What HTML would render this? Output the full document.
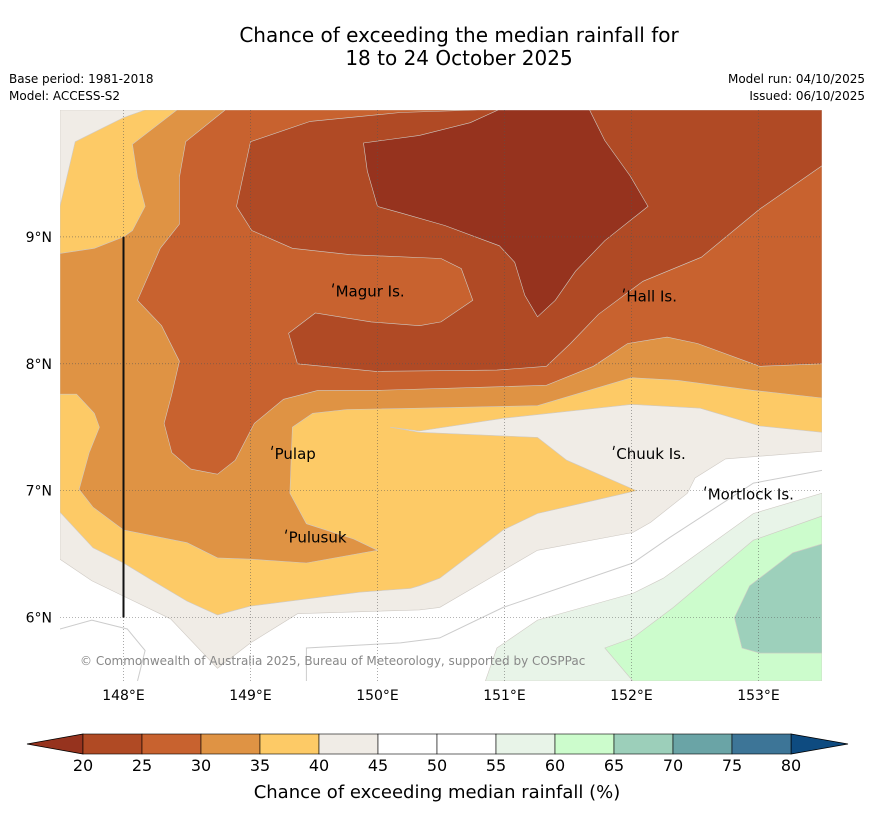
<!DOCTYPE html>
<html><head><meta charset="utf-8"><style>
body{margin:0;background:#fff;font-family:"Liberation Sans","DejaVu Sans",sans-serif}
svg text{font-family:"DejaVu Sans","Liberation Sans",sans-serif}
</style></head><body>
<svg id="chart" width="873" height="816" xmlns="http://www.w3.org/2000/svg">
<rect width="873" height="816" fill="#fff"/>
<text x="459" y="42" font-size="20" text-anchor="middle">Chance of exceeding the median rainfall for</text>
<text x="459" y="65" font-size="20" text-anchor="middle">18 to 24 October 2025</text>
<text x="9" y="83" font-size="12">Base period: 1981-2018</text>
<text x="9" y="100" font-size="12">Model: ACCESS-S2</text>
<text x="865" y="83" font-size="12" text-anchor="end">Model run: 04/10/2025</text>
<text x="865" y="100" font-size="12" text-anchor="end">Issued: 06/10/2025</text>
<defs><clipPath id="mapclip"><rect x="60" y="110" width="762" height="571"/></clipPath></defs>
<g id="map" clip-path="url(#mapclip)"></g>
<g id="axes"></g>
<g id="cbar"></g>
<text x="437" y="798" font-size="18" text-anchor="middle">Chance of exceeding median rainfall (%)</text>
</svg>
<script>
const NS="http://www.w3.org/2000/svg";
const lonTicks=[148,149,150,151,152,153];
const latTicks=[6,7,8,9];
const lonTickLabels=["148°E","149°E","150°E","151°E","152°E","153°E"];
const latTickLabels=["6°N","7°N","8°N","9°N"];
const cbLevels=[20,25,30,35,40,45,50,55,60,65,70,75,80];
const cbColors=["#b04a24","#c8622f","#df9344","#fdca66","#f0ece6","#ffffff","#ffffff","#e8f4e8","#ccfccc","#9ccfba","#6aa4a6","#3d7597"];
const cbUnder="#96331e", cbOver="#0e4b80";
const regionCream=[[147.5,10],[153.5,10],[153.5,7.31],[152.74,7.25],[152.5,7.1],[152.44,6.98],[152.15,6.75],[152.01,6.67],[151.26,6.53],[150.49,6.08],[150.33,6.06],[149.37,6.03],[149.0,5.8],[148.74,5.6],[148.37,5.99],[147.75,6.29],[147.5,6.46]];
const regionLightGreen=[[150.85,5.5],[150.94,5.76],[151.26,5.98],[152.01,6.19],[152.25,6.31],[152.96,6.82],[153.5,6.98],[153.5,5.5]];
const regionMint=[[151.79,5.76],[152.01,5.84],[152.33,6.08],[152.96,6.61],[153.5,6.8],[153.5,5.5],[152.01,5.5]];
const regionTeal=[[152.81,6.0],[152.93,6.25],[153.27,6.51],[153.5,6.58],[153.5,5.72],[153.01,5.72],[152.87,5.76]];
const regionYellow=[[148.17,10],[153.5,10],[153.5,7.46],[153.01,7.51],[152.54,7.65],[152.0,7.68],[150.99,7.57],[150.33,7.47],[150.1,7.5],[150.33,7.46],[151.26,7.42],[151.49,7.24],[151.81,7.1],[152.04,7.0],[151.26,6.82],[150.99,6.69],[150.49,6.31],[150.33,6.25],[150.26,6.23],[149.86,6.2],[149.0,6.09],[148.74,6.02],[148.5,6.13],[148.23,6.29],[148.0,6.43],[147.76,6.55],[147.5,6.83],[147.5,9.24],[147.62,9.75],[148.0,9.94]];
const regionOrange=[[148.42,10],[153.5,10],[153.5,7.73],[152.96,7.79],[152.36,7.87],[152.0,7.89],[151.26,7.67],[150.33,7.65],[149.76,7.64],[149.49,7.61],[149.33,7.5],[149.31,6.98],[149.44,6.74],[149.81,6.62],[150.0,6.53],[149.44,6.43],[149.0,6.46],[148.74,6.47],[148.5,6.59],[148.0,6.69],[147.76,6.87],[147.65,7.01],[147.73,7.3],[147.81,7.5],[147.77,7.61],[147.63,7.76],[147.5,7.76],[147.5,8.87],[147.77,8.91],[148.0,9.0],[148.07,9.05],[148.17,9.24],[148.11,9.47],[148.07,9.73]];
const regionRed=[[148.8,10],[153.5,10],[153.5,8.0],[153.01,7.98],[152.52,8.16],[152.28,8.21],[151.97,8.16],[151.7,7.98],[151.33,7.83],[149.99,7.79],[149.53,7.79],[149.26,7.72],[149.03,7.53],[148.88,7.24],[148.74,7.13],[148.53,7.17],[148.38,7.3],[148.32,7.53],[148.38,7.76],[148.44,8.02],[148.3,8.3],[148.11,8.5],[148.29,8.91],[148.44,9.1],[148.44,9.47],[148.49,9.75]];
const regionBrown=[[150.79,10],[153.5,10],[153.5,9.56],[153.01,9.22],[152.55,8.84],[152.09,8.65],[151.74,8.39],[151.52,8.16],[151.33,7.98],[150.94,7.95],[149.99,7.94],[149.37,8.0],[149.3,8.24],[149.51,8.4],[149.95,8.33],[150.33,8.3],[150.5,8.33],[150.75,8.5],[150.66,8.75],[150.5,8.83],[149.79,8.86],[149.33,8.91],[149.01,9.05],[148.89,9.24],[149.0,9.75],[149.47,9.91],[150.18,9.98]];
const regionDark=[[149.89,9.74],[150.33,9.8],[150.73,9.9],[150.95,10],[151.67,10],[151.79,9.76],[151.99,9.48],[152.13,9.24],[151.79,8.97],[151.56,8.73],[151.4,8.5],[151.26,8.37],[151.16,8.54],[151.08,8.8],[150.96,8.93],[150.53,9.09],[150.18,9.19],[150.0,9.24],[149.92,9.52]];
const line50a=[[149.44,5.5],[149.44,5.76],[150.18,5.8],[150.49,5.84],[150.99,6.08],[152.01,6.43],[152.3,6.63],[152.96,7.06],[153.5,7.16]];
const line50b=[[147.5,5.91],[147.75,5.98],[148.03,5.91],[148.17,5.74],[148.11,5.5]];
const places=["Magur Is.","Hall Is.","Pulap","Chuuk Is.","Mortlock Is.","Pulusuk"];
const placeLon=[149.67,151.96,149.19,151.88,152.6,149.3];
const placeLat=[8.57,8.53,7.29,7.29,6.97,6.63];

const X0=60,X1=822,Y0=110,Y1=681,LON0=147.5,LON1=153.5,LAT0=5.5,LAT1=10.0;
function xs(lon){return X0+(lon-LON0)/(LON1-LON0)*(X1-X0);}
function ys(lat){return Y1-(lat-LAT0)/(LAT1-LAT0)*(Y1-Y0);}
function mk(t,a,p){const e=document.createElementNS(NS,t);for(const k in a)e.setAttribute(k,a[k]);p.appendChild(e);return e;}
const map=document.getElementById('map');
const pts=arr=>arr.map(p=>xs(p[0]).toFixed(1)+","+ys(p[1]).toFixed(1)).join(" ");
const regions=[[regionCream,"#f0ece6","contour-40-45"],[regionLightGreen,"#e8f4e8","contour-55-60"],[regionMint,"#ccfccc","contour-60-65"],[regionTeal,"#9dd0bb","contour-65-70"],[regionYellow,"#fdca66","contour-35-40"],[regionOrange,"#df9344","contour-30-35"],[regionRed,"#c8622f","contour-25-30"],[regionBrown,"#b04a25","contour-20-25"],[regionDark,"#96331e","contour-below-20"]];
for(const r of regions){
  const e=mk('polygon',{points:pts(r[0]),fill:r[1],stroke:"#cfcac4","stroke-width":0.6},map);
  
  
}
for(const l of [line50a,line50b]){
  const e=mk('polyline',{points:pts(l),fill:"none",stroke:"#ccc","stroke-width":1},map);
  
  
}
lonTicks.forEach(v=>{const e=mk('line',{x1:xs(v),x2:xs(v),y1:Y0,y2:Y1,stroke:"#555","stroke-width":0.7,"stroke-dasharray":"1,2",opacity:0.7},map);
  });
latTicks.forEach(v=>{const e=mk('line',{x1:X0,x2:X1,y1:ys(v),y2:ys(v),stroke:"#555","stroke-width":0.7,"stroke-dasharray":"1,2",opacity:0.7},map);
  });
const bl=mk('line',{x1:xs(148),x2:xs(148),y1:ys(9),y2:ys(6),stroke:"#111","stroke-width":2},map);


places.forEach((n,i)=>{
  const t=mk('text',{x:xs(placeLon[i]),y:ys(placeLat[i])+5,"font-size":15,fill:"#000"},map);t.textContent=n;
  
  const m=mk('line',{x1:xs(placeLon[i])-2,y1:ys(placeLat[i])-8,x2:xs(placeLon[i])-3,y2:ys(placeLat[i])-4,stroke:"#000","stroke-width":1.2},map);
  
});
const cp=mk('text',{x:80,y:665,"font-size":12,fill:"#888"},map);cp.textContent="© Commonwealth of Australia 2025, Bureau of Meteorology, supported by COSPPac";

const axes=document.getElementById('axes');
lonTicks.forEach((v,i)=>{const t=mk('text',{x:xs(v),y:700,"font-size":14,"text-anchor":"middle"},axes);t.textContent=lonTickLabels[i];
  });
latTicks.forEach((v,i)=>{const t=mk('text',{x:52,y:ys(v)+5,"font-size":14,"text-anchor":"end"},axes);t.textContent=latTickLabels[i];
  });
// colorbar
const cb=document.getElementById('cbar');
const CB0=83,CB1=791,CBY=734,CBH=20;
function cx(v){return CB0+(v-cbLevels[0])/(cbLevels[cbLevels.length-1]-cbLevels[0])*(CB1-CB0);}
const ul=mk('polygon',{points:`${CB0},${CBY} ${CB0},${CBY+CBH} 27,${CBY+CBH/2}`,fill:cbUnder,stroke:"#000","stroke-width":0.8},cb);

const ov=mk('polygon',{points:`${CB1},${CBY} ${CB1},${CBY+CBH} 848,${CBY+CBH/2}`,fill:cbOver,stroke:"#000","stroke-width":0.8},cb);

cbColors.forEach((c,i)=>{const r=mk('rect',{x:cx(cbLevels[i]),y:CBY,width:cx(cbLevels[i+1])-cx(cbLevels[i]),height:CBH,fill:c,stroke:"#000","stroke-width":0.6},cb);
  });
cbLevels.forEach(v=>{const t=mk('text',{x:cx(v),y:771,"font-size":16,"text-anchor":"middle"},cb);t.textContent=v;
  });
</script>
</body></html>
